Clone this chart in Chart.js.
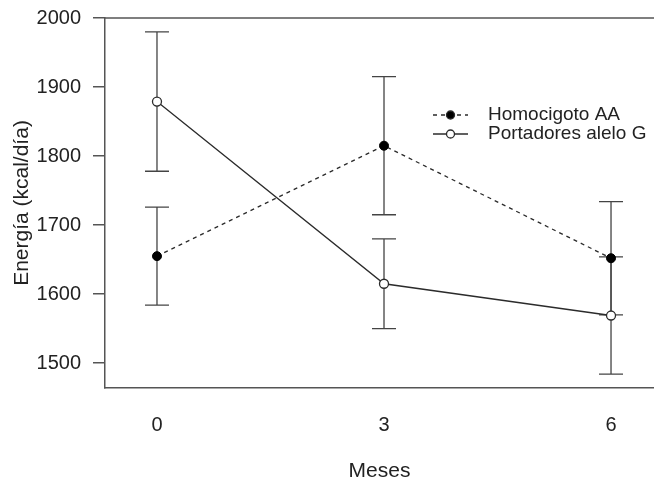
<!DOCTYPE html>
<html lang="es">
<head>
    <meta charset="UTF-8">
    <title>Energía por meses</title>
    <script src="https://cdn.jsdelivr.net/npm/chart.js"></script>
    <style>
        html, body { margin: 0; padding: 0; background: #fff; }
        #chart { display: block; }
    </style>
</head>
<body>
    <canvas id="chart" width="654" height="483"></canvas>
    <script>
        // Data
        const months = [0, 3, 6];
        const yTicks = [1500, 1600, 1700, 1800, 1900, 2000];
        const seriesNames = ['Homocigoto AA', 'Portadores alelo G'];
        const meanAA = [1655, 1815, 1652];
        const errAA = [71, 100, 82];
        const meanG = [1879, 1615, 1569];
        const errG = [101, 65, 85];

        const ink = '#2b2b2b';
        const axisColor = '#555';
        const font = 'Liberation Sans, Arial, sans-serif';

        // error bars, drawn under the points
        const errorBars = {
            id: 'errorBars',
            beforeDatasetsDraw(chart) {
                const ctx = chart.ctx;
                const xs = chart.scales.x, ys = chart.scales.y;
                const errs = [errAA, errG];
                ctx.save();
                ctx.strokeStyle = '#444';
                ctx.lineWidth = 1.3;
                chart.data.datasets.forEach((ds, d) => {
                    ds.data.forEach((p, i) => {
                        const x = xs.getPixelForValue(p.x);
                        const top = ys.getPixelForValue(p.y + errs[d][i]);
                        const bot = ys.getPixelForValue(p.y - errs[d][i]);
                        ctx.beginPath();
                        ctx.moveTo(x, top); ctx.lineTo(x, bot);
                        ctx.moveTo(x - 12, top); ctx.lineTo(x + 12, top);
                        ctx.moveTo(x - 12, bot); ctx.lineTo(x + 12, bot);
                        ctx.stroke();
                    });
                });
                ctx.restore();
            }
        };

        // top frame line + legend like the R figure
        const frameAndLegend = {
            id: 'frameAndLegend',
            afterDraw(chart) {
                const ctx = chart.ctx;
                const a = chart.chartArea;
                ctx.save();
                ctx.strokeStyle = axisColor;
                ctx.lineWidth = 1.5;
                ctx.beginPath();
                ctx.moveTo(a.left, a.top);
                ctx.lineTo(a.right, a.top);
                ctx.stroke();

                const rows = [115, 134];
                chart.data.datasets.forEach((ds, i) => {
                    const y = rows[i];
                    ctx.strokeStyle = ink;
                    ctx.lineWidth = 1.3;
                    ctx.setLineDash(ds.borderDash || []);
                    ctx.beginPath();
                    ctx.moveTo(433, y);
                    ctx.lineTo(468, y);
                    ctx.stroke();
                    ctx.setLineDash([]);
                    ctx.beginPath();
                    ctx.arc(450.5, y, 4, 0, Math.PI * 2);
                    ctx.fillStyle = ds.pointBackgroundColor;
                    ctx.fill();
                    ctx.stroke();
                    ctx.fillStyle = '#222';
                    ctx.font = '19px ' + font;
                    ctx.textBaseline = 'middle';
                    ctx.textAlign = 'left';
                    ctx.fillText(ds.label, 488, y);
                });
                ctx.restore();
            }
        };

        new Chart(document.getElementById('chart'), {
            type: 'line',
            data: {
                datasets: [
                    {
                        label: seriesNames[0],
                        data: months.map((m, i) => ({ x: m, y: meanAA[i] })),
                        borderColor: ink,
                        borderWidth: 1.3,
                        borderDash: [4, 4],
                        pointRadius: 4.5,
                        pointBackgroundColor: '#000',
                        pointBorderColor: '#000',
                        pointBorderWidth: 1,
                        tension: 0
                    },
                    {
                        label: seriesNames[1],
                        data: months.map((m, i) => ({ x: m, y: meanG[i] })),
                        borderColor: ink,
                        borderWidth: 1.3,
                        pointRadius: 4.5,
                        pointBackgroundColor: '#fff',
                        pointBorderColor: ink,
                        pointBorderWidth: 1.3,
                        tension: 0
                    }
                ]
            },
            options: {
                responsive: false,
                animation: false,
                layout: { autoPadding: false, padding: { top: 18, right: 0, bottom: 0, left: 0 } },
                plugins: {
                    legend: { display: false },
                    tooltip: { enabled: false }
                },
                scales: {
                    x: {
                        type: 'linear',
                        min: -0.687,
                        max: 6.568,
                        afterBuildTicks: s => { s.ticks = months.map(v => ({ value: v })); },
                        afterFit: s => { s.height = 95; s.paddingLeft = 0; s.paddingRight = 0; },
                        grid: { display: true, drawOnChartArea: false, drawTicks: false, tickLength: 0 },
                        border: { display: true, color: axisColor, width: 1.5 },
                        ticks: {
                            padding: 25,
                            maxRotation: 0,
                            color: '#222',
                            font: { family: font, size: 20 },
                            callback: v => String(v)
                        },
                        title: {
                            display: true,
                            text: 'Meses',
                            color: '#222',
                            font: { family: font, size: 21 },
                            padding: { top: 0, bottom: -1 }
                        }
                    },
                    y: {
                        min: 1464,
                        max: 2000,
                        afterBuildTicks: s => { s.ticks = yTicks.map(v => ({ value: v })); },
                        afterFit: s => { s.width = 105; s.paddingTop = 0; s.paddingBottom = 0; },
                        grid: { drawOnChartArea: false, drawTicks: true, tickLength: 12, color: axisColor, lineWidth: 1.5 },
                        border: { display: true, color: axisColor, width: 1.5 },
                        ticks: {
                            padding: 12,
                            color: '#222',
                            font: { family: font, size: 20 },
                            callback: v => String(v)
                        },
                        title: {
                            display: true,
                            text: 'Energía (kcal/día)',
                            color: '#222',
                            font: { family: font, size: 21 },
                            padding: { top: 10, bottom: 0 }
                        }
                    }
                }
            },
            plugins: [errorBars, frameAndLegend]
        });
    </script>
</body>
</html>
